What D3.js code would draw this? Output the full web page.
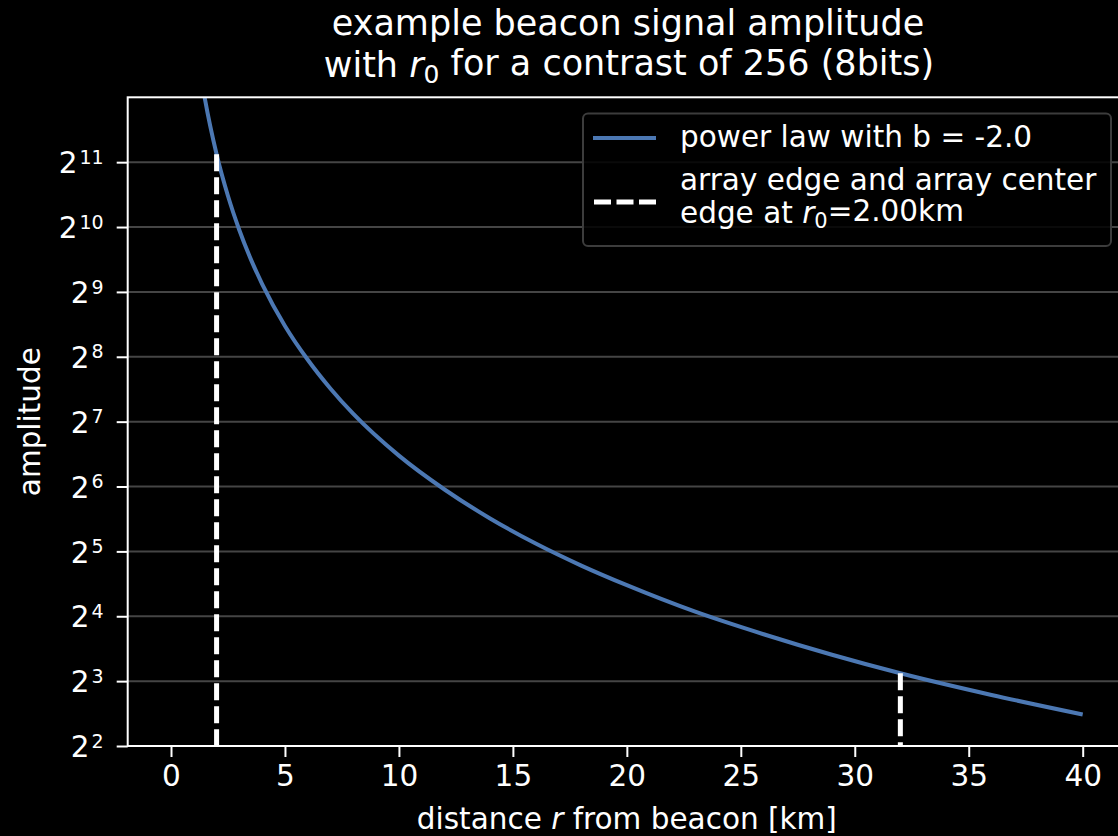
<!DOCTYPE html>
<html>
<head>
<meta charset="utf-8">
<script src="https://cdn.jsdelivr.net/npm/d3@7"></script>
<style>
  body { margin: 0; background: #000; }
  svg { display: block; font-family: "DejaVu Sans", sans-serif; }
</style>
</head>
<body>
<div id="chart"></div>
<script>
// distance from beacon [km] and amplitude
var distance = [0.8, 1.0, 1.2, 1.5, 2, 2.5, 3, 3.5, 4, 5, 6, 7, 8, 10, 12, 14, 16, 18, 20, 23, 26, 29, 32, 36, 40];
var amplitude = [13900, 8910, 6188, 3960, 2228, 1426, 990, 727, 557, 356, 248, 182, 139, 89, 62, 45.5, 34.8, 27.5, 22.3, 16.8, 13.2, 10.6, 8.7, 6.9, 5.6];

// array edge / array center markers
var edgeR = [2, 32];
var edgeAmp = [2228, 8.7];

var xTicks = [0, 5, 10, 15, 20, 25, 30, 35, 40];
var yExponents = [2, 3, 4, 5, 6, 7, 8, 9, 10, 11];

var W = 1118, H = 836;
var margin = { top: 97.3, left: 127.7 };
var plotW = 1126 - margin.left,
    plotH = 746 - margin.top;

var x = d3.scaleLinear().domain([-1.9, 41.9]).range([0, plotW]);
var y = d3.scaleLog().base(2).domain([4, 4096]).range([plotH, 0]);

var svg = d3.select("#chart").append("svg")
    .attr("width", W)
    .attr("height", H);

svg.append("rect").attr("width", W).attr("height", H).attr("fill", "#000");

var g = svg.append("g")
    .attr("transform", "translate(" + margin.left + "," + margin.top + ")");

g.append("clipPath").attr("id", "clip")
  .append("rect").attr("width", plotW).attr("height", plotH);

// horizontal grid
g.selectAll(".grid")
    .data(yExponents.slice(1))
  .enter().append("line")
    .attr("x1", 0).attr("x2", plotW)
    .attr("y1", function(e) { return y(Math.pow(2, e)); })
    .attr("y2", function(e) { return y(Math.pow(2, e)); })
    .attr("stroke", "#454545")
    .attr("stroke-width", 2);

var pts = distance.map(function(r, i) { return [r, amplitude[i]]; });

var line = d3.line()
    .x(function(d) { return x(d[0]); })
    .y(function(d) { return y(d[1]); })
    .curve(d3.curveMonotoneX);

g.append("path")
    .datum(pts)
    .attr("clip-path", "url(#clip)")
    .attr("fill", "none")
    .attr("stroke", "#4c78b3")
    .attr("stroke-width", 4)
    .attr("d", line);

// dashed edge markers
g.selectAll(".edge")
    .data(edgeR)
  .enter().append("line")
    .attr("x1", function(d) { return x(d); })
    .attr("x2", function(d) { return x(d); })
    .attr("y1", function(d, i) { return y(edgeAmp[i]); })
    .attr("y2", plotH)
    .attr("stroke", "#fff")
    .attr("stroke-width", 5)
    .attr("stroke-dasharray", "17,6");

// axes
var xAxis = g.append("g")
    .attr("transform", "translate(0," + plotH + ")")
    .call(d3.axisBottom(x).tickValues(xTicks).tickSize(11).tickPadding(8));

var yAxis = g.append("g")
    .call(d3.axisLeft(y)
      .tickValues(yExponents.map(function(e) { return Math.pow(2, e); }))
      .tickSize(11).tickPadding(13));

[xAxis, yAxis].forEach(function(a) {
  a.select(".domain").remove();
  a.selectAll(".tick line").attr("stroke", "#fff").attr("stroke-width", 2);
  a.selectAll("text").attr("fill", "#fff").style("font-size", "29.5px")
    .style("font-family", "DejaVu Sans");
});

yAxis.selectAll(".tick text")
    .text(null)
    .attr("dy", "0.36em")
    .each(function(d) {
      var t = d3.select(this);
      t.append("tspan").text("2");
      t.append("tspan").text(Math.round(Math.log2(d)))
        .attr("dx", 2)
        .attr("dy", "-0.5em").style("font-size", "19px");
    });

// spines
g.append("rect")
    .attr("width", plotW).attr("height", plotH)
    .attr("fill", "none")
    .attr("stroke", "#fff")
    .attr("stroke-width", 2);

// title, two lines
var title = svg.append("g")
    .attr("text-anchor", "middle")
    .attr("fill", "#fff")
    .style("font-size", "35px");
title.append("text")
    .attr("x", 628).attr("y", 35)
    .text("example beacon signal amplitude");
var t2 = title.append("text").attr("x", 629).attr("y", 77);
t2.append("tspan").text("with ");
t2.append("tspan").text("r").style("font-style", "italic");
t2.append("tspan").text("0").attr("dy", "0.22em").style("font-size", "25px");
t2.append("tspan").text(" for a contrast of 256 (8bits)").attr("dy", "-0.22em").style("font-size", "35px");

// axis labels
var xl = svg.append("text")
    .attr("x", margin.left + x(20))
    .attr("y", 829)
    .attr("text-anchor", "middle")
    .attr("fill", "#fff")
    .style("font-size", "29.5px");
xl.append("tspan").text("distance ");
xl.append("tspan").text("r").style("font-style", "italic");
xl.append("tspan").text(" from beacon [km]");

svg.append("text")
    .attr("transform", "translate(40," + (margin.top + plotH / 2) + ") rotate(-90)")
    .attr("text-anchor", "middle")
    .attr("fill", "#fff")
    .style("font-size", "29.5px")
    .text("amplitude");

// legend
var lg = svg.append("g");
lg.append("rect")
    .attr("x", 583).attr("y", 113.5)
    .attr("width", 528).attr("height", 132.5)
    .attr("rx", 5)
    .attr("fill", "#000").attr("fill-opacity", 0.85)
    .attr("stroke", "#3c3c3c").attr("stroke-width", 2);
lg.append("line")
    .attr("x1", 593).attr("x2", 656).attr("y1", 138).attr("y2", 138)
    .attr("stroke", "#4c78b3").attr("stroke-width", 4);
lg.append("line")
    .attr("x1", 594).attr("x2", 656).attr("y1", 202).attr("y2", 202)
    .attr("stroke", "#fff").attr("stroke-width", 5)
    .attr("stroke-dasharray", "17,5.5");

var lt = lg.append("g").attr("fill", "#fff").style("font-size", "29.5px");
lt.append("text").attr("x", 680).attr("y", 147).text("power law with b = -2.0");
lt.append("text").attr("x", 680).attr("y", 190).text("array edge and array center");
var l3 = lt.append("text").attr("x", 680).attr("y", 223);
l3.append("tspan").text("edge at ");
l3.append("tspan").text("r").style("font-style", "italic");
l3.append("tspan").text("0").attr("dy", "0.22em").style("font-size", "21px");
l3.append("tspan").text("=2.00km").attr("dy", "-0.22em").style("font-size", "29.5px");
</script>
</body>
</html>
